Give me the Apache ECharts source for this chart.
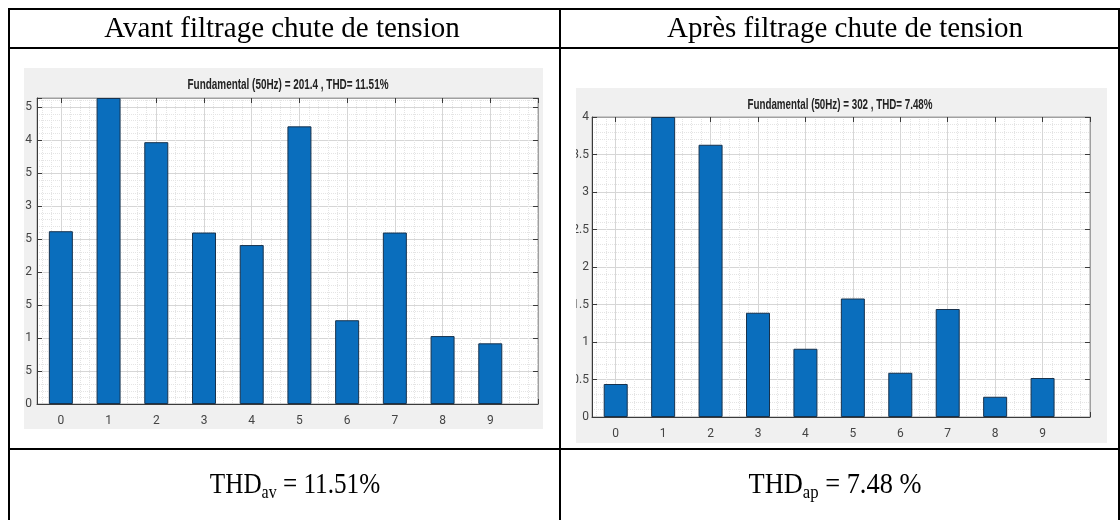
<!DOCTYPE html>
<html>
<head>
<meta charset="utf-8">
<script src="https://cdn.jsdelivr.net/npm/echarts@6/dist/echarts.min.js"></script>
<style>
  html, body { margin: 0; padding: 0; background: #ffffff; }
  #chart { width: 1120px; height: 520px; }
</style>
</head>
<body>
<div id="chart"></div>
<script>
// Harmonic spectrum of the voltage, before and after filtering
const harmonics = [0, 1, 2, 3, 4, 5, 6, 7, 8, 9];
const beforeValues = [2.62, 4.64, 3.97, 2.60, 2.41, 4.21, 1.27, 2.60, 1.03, 0.92];
const afterValues  = [0.44, 4.00, 3.63, 1.39, 0.91, 1.58, 0.59, 1.44, 0.27, 0.52];
const beforeYMax = 4.64;
const afterYMax = 4;
const columnHeaders = ['Avant filtrage chute de tension', 'Après filtrage chute de tension'];
const plotTitles = ['Fundamental (50Hz) = 201.4 , THD= 11.51%', 'Fundamental (50Hz) = 302 , THD= 7.48%'];
const thdSubscripts = ['av', 'ap'];
const thdValues = [' = 11.51%', ' = 7.48 %'];

const PLOT_FONT = 'Roboto, "Liberation Sans", sans-serif';
const TITLE_FONT = '"Liberation Sans", Arial, sans-serif';
const DOC_FONT = '"Liberation Serif", "DejaVu Serif", serif';

const chart = echarts.init(document.getElementById('chart'), null, { renderer: 'canvas' });

const grids = [
  { left: 37, top: 98, width: 501, height: 306 },
  { left: 592, top: 117, width: 498, height: 300 }
];

// horizontal squeeze so a title fits the width the plot gives it
const measureCtx = document.createElement('canvas').getContext('2d');
function squeezeFor(str, font, targetWidth) {
  measureCtx.font = font;
  const w = measureCtx.measureText(str).width;
  return w > 0 ? Math.min(1, targetWidth / w) : 1;
}

function isHalfStep(v) { return Math.abs(v * 2 - Math.round(v * 2)) < 1e-9; }

function bottomXAxis(g) {
  return {
    type: 'value', gridIndex: g, position: 'bottom',
    min: -0.5, max: 10, minInterval: 1, maxInterval: 1, splitNumber: 10,
    axisLine: { show: true, onZero: false, lineStyle: { color: '#3a3a3a', width: 1 } },
    axisTick: { show: true, inside: true, length: 5, lineStyle: { color: '#3a3a3a' } },
    axisLabel: {
      margin: 11, color: '#444444', fontSize: 12, fontFamily: PLOT_FONT,
      showMinLabel: true, showMaxLabel: true,
      formatter: v => (Number.isInteger(v) && v >= 0 && v <= 9) ? String(v) : ''
    },
    splitLine: { show: true, lineStyle: { color: '#d6d6d6', width: 1 } },
    minorTick: { show: false, splitNumber: 5 },
    minorSplitLine: { show: true, lineStyle: { color: '#e4e4e4', type: 'dotted' } }
  };
}
function topXAxis(g) {
  return {
    type: 'value', gridIndex: g, position: 'top',
    min: -0.5, max: 10, minInterval: 1, maxInterval: 1, splitNumber: 10,
    axisLine: { show: true, onZero: false, lineStyle: { color: '#a0a0a0' } },
    axisTick: { show: true, inside: true, length: 5, lineStyle: { color: '#3a3a3a' } },
    axisLabel: { show: false },
    splitLine: { show: false }
  };
}
function leftYAxis(g, yMax, labelMargin) {
  return {
    type: 'value', gridIndex: g, position: 'left',
    min: 0, max: yMax, interval: 0.5,
    axisLine: { show: true, onZero: false, lineStyle: { color: '#3a3a3a' } },
    axisTick: { show: true, inside: true, length: 5, lineStyle: { color: '#3a3a3a' } },
    axisLabel: {
      margin: labelMargin, color: '#444444', fontSize: 12, fontFamily: PLOT_FONT,
      showMinLabel: true, showMaxLabel: true,
      formatter: v => isHalfStep(v) ? String(v) : ''
    },
    splitLine: { show: true, lineStyle: { color: '#d6d6d6', width: 1 } },
    minorTick: { show: false, splitNumber: 5 },
    minorSplitLine: { show: true, lineStyle: { color: '#e4e4e4', type: 'dotted' } }
  };
}
function rightYAxis(g, yMax) {
  return {
    type: 'value', gridIndex: g, position: 'right',
    min: 0, max: yMax, interval: 0.5,
    axisLine: { show: true, onZero: false, lineStyle: { color: '#a0a0a0' } },
    axisTick: { show: true, inside: true, length: 5, lineStyle: { color: '#3a3a3a' } },
    axisLabel: { show: false },
    splitLine: { show: false }
  };
}

function barSeries(xi, yi, values) {
  return {
    type: 'bar', xAxisIndex: xi, yAxisIndex: yi,
    data: harmonics.map((h, i) => [h, values[i]]),
    barWidth: 24, clip: true, z: 3,
    itemStyle: { color: '#0a6ebd', borderColor: '#17324d', borderWidth: 1 }
  };
}

function thdText(sub, rest, cx, cy, squeeze) {
  return {
    type: 'text', x: cx, y: cy, z: 20, scaleX: squeeze, scaleY: 1,
    style: {
      text: '{m|THD}{s|' + sub + '}{m|' + rest + '}',
      align: 'center', verticalAlign: 'middle',
      textAlign: 'center', textVerticalAlign: 'middle',
      fill: '#000',
      rich: {
        m: { fontSize: 30, fontFamily: DOC_FONT, lineHeight: 36, fill: '#000', color: '#000' },
        s: { fontSize: 19, fontFamily: DOC_FONT, lineHeight: 21, verticalAlign: 'bottom', fill: '#000', color: '#000' }
      }
    }
  };
}

function hLine(x1, x2, y) {
  return { type: 'line', z: 30, shape: { x1: x1, y1: y, x2: x2, y2: y }, style: { stroke: '#000', lineWidth: 2 } };
}
function vLine(x, y1, y2) {
  return { type: 'line', z: 30, shape: { x1: x, y1: y1, x2: x, y2: y2 }, style: { stroke: '#000', lineWidth: 2 } };
}
function headerText(str, cx, cy) {
  return {
    type: 'text', x: cx, y: cy, z: 20,
    style: {
      text: str, fontSize: 29, fontFamily: DOC_FONT, fill: '#000',
      align: 'center', verticalAlign: 'middle', textAlign: 'center', textVerticalAlign: 'middle'
    }
  };
}
function plotTitle(str, cx, cy, targetWidth) {
  const font = 'bold 14px ' + TITLE_FONT;
  return {
    type: 'text', x: cx, y: cy, z: 20, scaleX: squeezeFor(str, font, targetWidth), scaleY: 1,
    style: {
      text: str, fontSize: 14, fontWeight: 'bold', fontFamily: TITLE_FONT, fill: '#222222',
      align: 'center', verticalAlign: 'middle', textAlign: 'center', textVerticalAlign: 'middle'
    }
  };
}

const option = {
  animation: false,
  backgroundColor: '#ffffff',
  grid: grids.map(g => Object.assign({ show: true, backgroundColor: '#ffffff', borderColor: '#a0a0a0', borderWidth: 1, containLabel: false }, g)),
  xAxis: [bottomXAxis(0), topXAxis(0), bottomXAxis(1), topXAxis(1)],
  yAxis: [leftYAxis(0, beforeYMax, 5), rightYAxis(0, beforeYMax), leftYAxis(1, afterYMax, 3), rightYAxis(1, afterYMax)],
  series: [barSeries(0, 0, beforeValues), barSeries(2, 2, afterValues)],
  graphic: {
    elements: [
      // figure backgrounds of the two spectrum plots
      { type: 'rect', z: -10, shape: { x: 24, y: 68, width: 519, height: 361 }, style: { fill: '#f0f0f0' } },
      { type: 'rect', z: -10, shape: { x: 576, y: 88, width: 531, height: 355 }, style: { fill: '#f0f0f0' } },
      // margins of the table cells, drawn over the tick labels that spill past the figures
      { type: 'rect', z: 15, shape: { x: 9, y: 60, width: 15, height: 380 }, style: { fill: '#ffffff' } },
      { type: 'rect', z: 15, shape: { x: 561, y: 60, width: 15, height: 380 }, style: { fill: '#ffffff' } },
      plotTitle(plotTitles[0], 288, 85, 201),
      plotTitle(plotTitles[1], 840, 105, 185),
      headerText(columnHeaders[0], 282, 29),
      headerText(columnHeaders[1], 845, 29),
      thdText(thdSubscripts[0], thdValues[0], 295, 485, 0.84),
      thdText(thdSubscripts[1], thdValues[1], 835, 485, 0.88),
      // table rules
      hLine(8, 1120, 9),
      hLine(8, 1120, 48),
      hLine(8, 1120, 449),
      vLine(9, 8, 520),
      vLine(560, 8, 520),
      vLine(1119, 8, 520)
    ]
  }
};

chart.setOption(option);
</script>
</body>
</html>
